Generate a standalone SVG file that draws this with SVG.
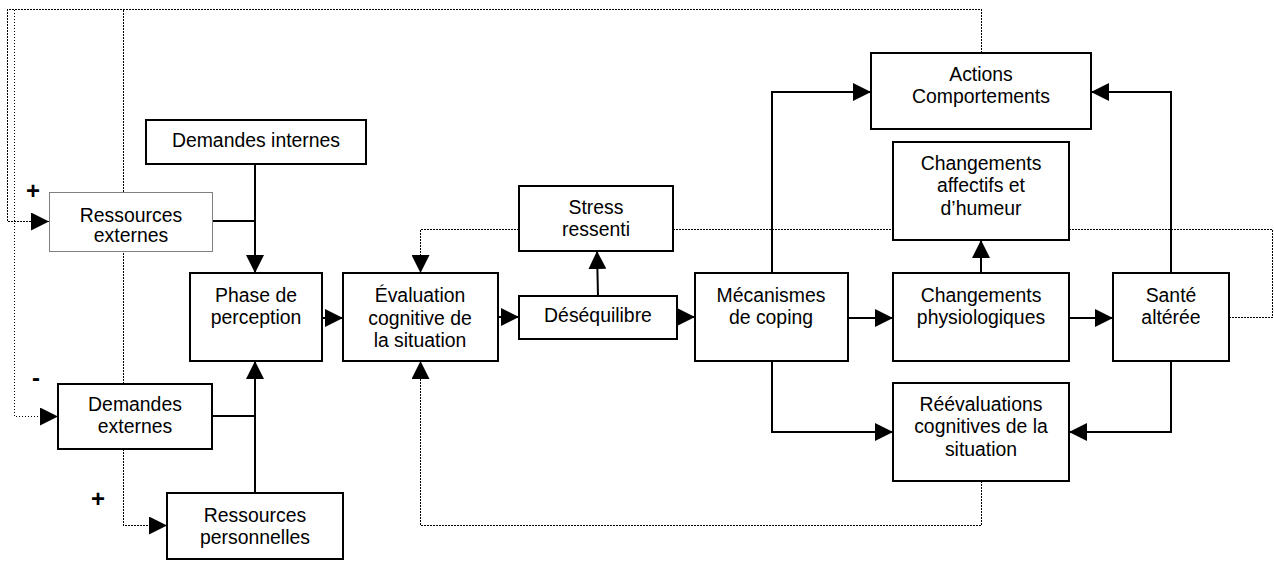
<svg xmlns="http://www.w3.org/2000/svg" width="1274" height="561" viewBox="0 0 1274 561">
<style>
.box{fill:#fff;stroke:#000;stroke-width:2}
.boxg{fill:#fff;stroke:#808080;stroke-width:1}
.t{font-family:"Liberation Sans",Arial,sans-serif;font-size:19.4px;text-anchor:middle;fill:#000}
.sign{font-family:"Liberation Sans",Arial,sans-serif;font-size:24px;font-weight:bold;text-anchor:middle;fill:#000}
.ln{fill:none;stroke:#000;stroke-width:2}
.dot{fill:none;stroke:#000;stroke-width:1.2;stroke-dasharray:1.8 1.2;shape-rendering:crispEdges}
</style>
<defs>
<marker id="ah" markerUnits="userSpaceOnUse" markerWidth="18" markerHeight="18" refX="18" refY="9" orient="auto">
<path d="M0,0 L18,9 L0,18 z" fill="#000" style="shape-rendering:auto"/>
</marker>
</defs>
<rect width="1274" height="561" fill="#fff"/>
<g id="connectors">
<path class="dot" d="M981.5,53 V9.5 H7.5 V221.5 H49" marker-end="url(#ah)"/>
<path class="dot" d="M123.5,384 V9.5"/>
<path class="dot" d="M14.5,9.5 V416.5 H58" marker-end="url(#ah)"/>
<path class="dot" d="M123.5,449 V525.5 H167" marker-end="url(#ah)"/>
<path class="dot" d="M1229,317.5 H1272.5 V229.5 H420.5 V273" marker-end="url(#ah)"/>
<path class="dot" d="M981.5,481 V525.5 H420.5 V361" marker-end="url(#ah)"/>
<path class="ln" d="M255,164 V273" marker-end="url(#ah)"/>
<path class="ln" d="M212,221 H255"/>
<path class="ln" d="M212,416 H255"/>
<path class="ln" d="M255,493 V361" marker-end="url(#ah)"/>
<path class="ln" d="M322,318 H343" marker-end="url(#ah)"/>
<path class="ln" d="M498,317 H519" marker-end="url(#ah)"/>
<path class="ln" d="M598,296 L597,251" marker-end="url(#ah)"/>
<path class="ln" d="M677,317 H695" marker-end="url(#ah)"/>
<path class="ln" d="M772,273 V92 H871" marker-end="url(#ah)"/>
<path class="ln" d="M772,361 V432 H893" marker-end="url(#ah)"/>
<path class="ln" d="M848,318 H893" marker-end="url(#ah)"/>
<path class="ln" d="M1069,318 H1113" marker-end="url(#ah)"/>
<path class="ln" d="M981,273 V240" marker-end="url(#ah)"/>
<path class="ln" d="M1171,273 V92 H1091" marker-end="url(#ah)"/>
<path class="ln" d="M1171,361 V432 H1069" marker-end="url(#ah)"/>
</g>
<g id="signs">
<text class="sign" x="33" y="199">+</text>
<text class="sign" x="36" y="386">-</text>
<text class="sign" x="98" y="507">+</text>
</g>
<g id="demandes-internes">
<rect class="box" x="146" y="120" width="220" height="44"/>
<text class="t" x="256" y="147">Demandes internes</text>
</g>
<g id="ressources-externes">
<rect class="boxg" x="49.5" y="192.5" width="163" height="59"/>
<text class="t" x="131" y="222">Ressources</text>
<text class="t" x="131" y="242">externes</text>
</g>
<g id="phase-perception">
<rect class="box" x="190" y="273" width="132" height="88"/>
<text class="t" x="256" y="302">Phase de</text>
<text class="t" x="256" y="324">perception</text>
</g>
<g id="demandes-externes">
<rect class="box" x="58" y="384" width="154" height="65"/>
<text class="t" x="135" y="411">Demandes</text>
<text class="t" x="135" y="433">externes</text>
</g>
<g id="ressources-personnelles">
<rect class="box" x="167" y="493" width="176" height="66"/>
<text class="t" x="255" y="522">Ressources</text>
<text class="t" x="255" y="544">personnelles</text>
</g>
<g id="evaluation">
<rect class="box" x="343" y="273" width="155" height="88"/>
<text class="t" x="420" y="302">Évaluation</text>
<text class="t" x="420" y="324.5">cognitive de</text>
<text class="t" x="420" y="347">la situation</text>
</g>
<g id="stress-ressenti">
<rect class="box" x="519" y="186" width="154" height="65"/>
<text class="t" x="596" y="214">Stress</text>
<text class="t" x="596" y="236">ressenti</text>
</g>
<g id="desequilibre">
<rect class="box" x="519" y="296" width="158" height="43"/>
<text class="t" x="598" y="322">Déséquilibre</text>
</g>
<g id="mecanismes">
<rect class="box" x="695" y="273" width="153" height="88"/>
<text class="t" x="771" y="302">Mécanismes</text>
<text class="t" x="771" y="324">de coping</text>
</g>
<g id="actions">
<rect class="box" x="871" y="53" width="220" height="76"/>
<text class="t" x="981" y="81">Actions</text>
<text class="t" x="981" y="103">Comportements</text>
</g>
<g id="changements-affectifs">
<rect class="box" x="893" y="142" width="176" height="98"/>
<text class="t" x="981" y="170">Changements</text>
<text class="t" x="981" y="192">affectifs et</text>
<text class="t" x="981" y="215">d’humeur</text>
</g>
<g id="changements-physiologiques">
<rect class="box" x="893" y="273" width="176" height="88"/>
<text class="t" x="981" y="302">Changements</text>
<text class="t" x="981" y="324">physiologiques</text>
</g>
<g id="sante">
<rect class="box" x="1113" y="273" width="116" height="88"/>
<text class="t" x="1171" y="302">Santé</text>
<text class="t" x="1171" y="324">altérée</text>
</g>
<g id="reevaluations">
<rect class="box" x="893" y="383" width="176" height="98"/>
<text class="t" x="981" y="411">Réévaluations</text>
<text class="t" x="981" y="433">cognitives de la</text>
<text class="t" x="981" y="456">situation</text>
</g>
</svg>
